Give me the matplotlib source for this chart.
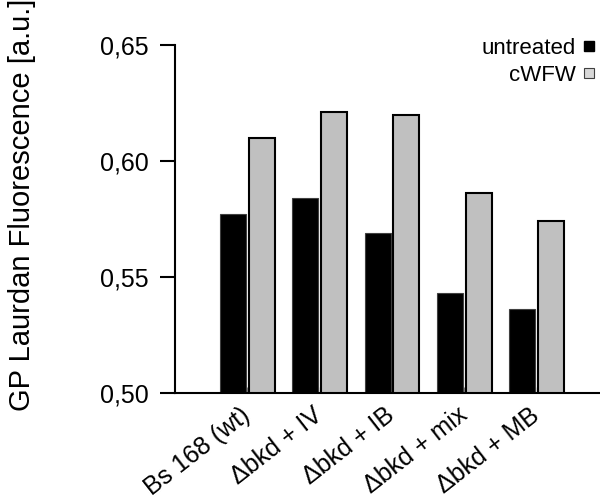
import matplotlib
matplotlib.use('Agg')
import matplotlib.pyplot as plt
from matplotlib.lines import Line2D
import numpy as np

plt.rcParams['font.family'] = ['Liberation Sans', 'DejaVu Sans']

strains = ['Bs 168 (wt)', 'Δbkd + IV', 'Δbkd + IB', 'Δbkd + mix', 'Δbkd + MB']
untreated = [0.577, 0.584, 0.569, 0.543, 0.536]
cwfw = [0.610, 0.621, 0.620, 0.586, 0.574]
y_ticks = [0.50, 0.55, 0.60, 0.65]

fig = plt.figure(figsize=(6, 5), dpi=100)
ax = fig.add_axes([175 / 600, 107 / 500, 434 / 600, 348 / 500])

x = np.arange(1, len(strains) + 1)
w = 0.36
ax.bar(x - 0.2, untreated, w, color='black', edgecolor='#404040', linewidth=0.8,
       label='untreated', zorder=2)
ax.bar(x + 0.2, cwfw, w, color='#c0c0c0', edgecolor='black', linewidth=1.5,
       label='cWFW', zorder=2)

ax.set_xlim(0, 6)
ax.set_ylim(0.5, 0.65)
ax.set_yticks(y_ticks)
ax.set_yticklabels([('%.2f' % v).replace('.', ',') for v in y_ticks], fontsize=18)
ax.set_xticks(x)
ax.set_xticklabels(strains, fontsize=18, rotation=38, ha='right', va='center',
                   rotation_mode='anchor')
ax.tick_params(axis='y', direction='out', length=11, width=1.5, pad=8)
ax.tick_params(axis='x', direction='in', length=4, width=1, color='#808080', pad=14)

for s in ['top', 'right']:
    ax.spines[s].set_visible(False)
ax.spines['left'].set_linewidth(1.5)
ax.spines['bottom'].set_linewidth(1.5)

ax.set_ylabel('GP Laurdan Fluorescence [a.u.]', fontsize=21)
ax.yaxis.set_label_coords(-0.32, 0.54)

handles = [
    Line2D([], [], marker='s', linestyle='none', markersize=7,
           markerfacecolor='black', markeredgecolor='black'),
    Line2D([], [], marker='s', linestyle='none', markersize=7,
           markerfacecolor='#d8d8d8', markeredgecolor='#404040', markeredgewidth=0.8),
]
fig.legend(handles, ['untreated', 'cWFW'], loc='upper right',
           bbox_to_anchor=(0.993, 0.925), frameon=False, markerfirst=False,
           fontsize=16, handlelength=0.6, handletextpad=0.3, labelspacing=0.3,
           borderpad=0.0, borderaxespad=0.0)

fig.savefig('out.png', dpi=100)
